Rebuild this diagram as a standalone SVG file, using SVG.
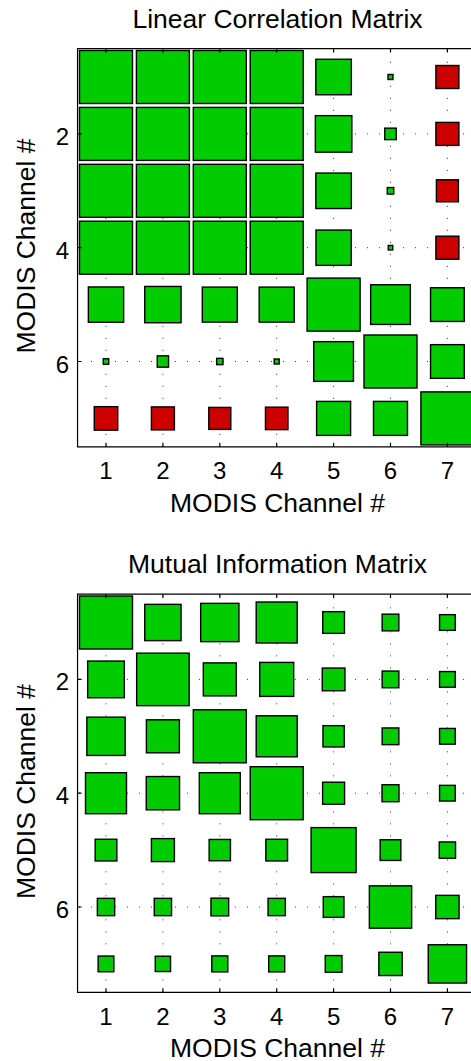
<svg xmlns="http://www.w3.org/2000/svg" width="471" height="1061" viewBox="0 0 471 1061">
<style>
text{font-family:"Liberation Sans",Arial,sans-serif;fill:#000}
.t{font-size:26.5px;text-anchor:middle}
.xt{font-size:24px;text-anchor:middle}
.yt{font-size:24px;text-anchor:end}
.g{fill:#00cc00;stroke:#000;stroke-width:1.4}
.r{fill:#cc0000;stroke:#000;stroke-width:1.4}
.grid{stroke:#333;stroke-width:1;fill:none;stroke-dasharray:1 11}
.ax{stroke:#000;stroke-width:1.2;fill:none}
</style>
<defs>
<g id="frame">
<g class="grid">
<path d="M106,446.85V48.55M162.9,446.85V48.55M219.8,446.85V48.55M276.7,446.85V48.55M333.6,446.85V48.55M390.5,446.85V48.55M447.4,446.85V48.55"/>
<path style="stroke-dashoffset:-1.5" d="M77.55,133.9H476M77.55,247.7H476M77.55,361.5H476"/>
</g>
</g>
<g id="axes">
<path class="ax" d="M476,48.55H77.55V446.85H476"/>
<path class="ax" d="M106,446.85v-4M162.9,446.85v-4M219.8,446.85v-4M276.7,446.85v-4M333.6,446.85v-4M390.5,446.85v-4M447.4,446.85v-4M106,48.55v4M162.9,48.55v4M219.8,48.55v4M276.7,48.55v4M333.6,48.55v4M390.5,48.55v4M447.4,48.55v4M77.55,133.9h4M77.55,247.7h4M77.55,361.5h4"/>
<g class="xt">
<text x="106" y="479.3">1</text><text x="162.9" y="479.3">2</text><text x="219.8" y="479.3">3</text><text x="276.7" y="479.3">4</text><text x="333.6" y="479.3">5</text><text x="390.5" y="479.3">6</text><text x="447.4" y="479.3">7</text>
</g>
<text class="yt" x="69" y="144.9">2</text><text class="yt" x="69" y="258.7">4</text><text class="yt" x="69" y="372.5">6</text>
<text class="t" x="277.5" y="511.7">MODIS Channel #</text>
<text class="t" transform="translate(35,246) rotate(-90)">MODIS Channel #</text>
</g>
</defs>

<g id="plot-linear-correlation">
<text class="t" x="277.5" y="27.7">Linear Correlation Matrix</text>
<use href="#frame"/>
<g id="lc-squares">
<rect class="g" x="79.5" y="50.5" width="53" height="53"/><rect class="g" x="136.4" y="50.5" width="53" height="53"/><rect class="g" x="193.3" y="50.5" width="53" height="53"/><rect class="g" x="250.2" y="50.5" width="53" height="53"/>
<rect class="g" x="315.85" y="59.25" width="35.5" height="35.5"/><rect class="g" x="388" y="74.5" width="5" height="5"/><rect class="r" x="435.9" y="65.5" width="23" height="23"/>
<rect class="g" x="79.5" y="107.4" width="53" height="53"/><rect class="g" x="136.4" y="107.4" width="53" height="53"/><rect class="g" x="193.3" y="107.4" width="53" height="53"/><rect class="g" x="250.2" y="107.4" width="53" height="53"/>
<rect class="g" x="315.35" y="115.65" width="36.5" height="36.5"/><rect class="g" x="384.75" y="128.15" width="11.5" height="11.5"/><rect class="r" x="435.9" y="122.4" width="23" height="23"/>
<rect class="g" x="79.5" y="164.3" width="53" height="53"/><rect class="g" x="136.4" y="164.3" width="53" height="53"/><rect class="g" x="193.3" y="164.3" width="53" height="53"/><rect class="g" x="250.2" y="164.3" width="53" height="53"/>
<rect class="g" x="315.85" y="173.05" width="35.5" height="35.5"/><rect class="g" x="387.25" y="187.55" width="6.5" height="6.5"/><rect class="r" x="436.4" y="179.8" width="22" height="22"/>
<rect class="g" x="79.5" y="221.2" width="53" height="53"/><rect class="g" x="136.4" y="221.2" width="53" height="53"/><rect class="g" x="193.3" y="221.2" width="53" height="53"/><rect class="g" x="250.2" y="221.2" width="53" height="53"/>
<rect class="g" x="315.95" y="230.05" width="35.3" height="35.3"/><rect class="g" x="388.25" y="245.45" width="4.5" height="4.5"/><rect class="r" x="435.9" y="236.2" width="23" height="23"/>
<rect class="g" x="88.35" y="286.95" width="35.3" height="35.3"/><rect class="g" x="144.75" y="286.45" width="36.3" height="36.3"/><rect class="g" x="202.3" y="287.1" width="35" height="35"/><rect class="g" x="259.2" y="287.1" width="35" height="35"/>
<rect class="g" x="307.1" y="278.1" width="53" height="53"/><rect class="g" x="370.65" y="284.75" width="39.7" height="39.7"/><rect class="g" x="430.55" y="287.75" width="33.7" height="33.7"/>
<rect class="g" x="103.25" y="358.75" width="5.5" height="5.5"/><rect class="g" x="157.25" y="355.85" width="11.3" height="11.3"/><rect class="g" x="216.65" y="358.35" width="6.3" height="6.3"/><rect class="g" x="274.2" y="359" width="5" height="5"/>
<rect class="g" x="313.75" y="341.65" width="39.7" height="39.7"/><rect class="g" x="364" y="335" width="53" height="53"/><rect class="g" x="430.55" y="344.65" width="33.7" height="33.7"/>
<rect class="r" x="94.25" y="406.65" width="23.5" height="23.5"/><rect class="r" x="151.4" y="406.9" width="23" height="23"/><rect class="r" x="208.8" y="407.4" width="22" height="22"/><rect class="r" x="265.45" y="407.15" width="22.5" height="22.5"/>
<rect class="g" x="316.6" y="401.4" width="34" height="34"/><rect class="g" x="373.5" y="401.4" width="34" height="34"/><rect class="g" x="420.9" y="391.9" width="53" height="53"/>
</g>
<use href="#axes"/>
</g>

<g id="plot-mutual-information">
<text class="t" x="277.5" y="572.9">Mutual Information Matrix</text>
<g transform="translate(0,545.5)">
<use href="#frame"/>
<g id="mi-squares">
<rect class="g" x="79.5" y="50.5" width="53" height="53"/><rect class="g" x="144.75" y="58.85" width="36.3" height="36.3"/><rect class="g" x="200.65" y="57.85" width="38.3" height="38.3"/><rect class="g" x="256.2" y="56.5" width="41" height="41"/>
<rect class="g" x="322.75" y="66.15" width="21.7" height="21.7"/><rect class="g" x="382.15" y="68.65" width="16.7" height="16.7"/><rect class="g" x="439.55" y="69.15" width="15.7" height="15.7"/>
<rect class="g" x="87.65" y="115.55" width="36.7" height="36.7"/><rect class="g" x="136.65" y="107.65" width="52.5" height="52.5"/><rect class="g" x="203.3" y="117.4" width="33" height="33"/><rect class="g" x="259.7" y="116.9" width="34" height="34"/>
<rect class="g" x="322.25" y="122.55" width="22.7" height="22.7"/><rect class="g" x="382.15" y="125.55" width="16.7" height="16.7"/><rect class="g" x="439.55" y="126.05" width="15.7" height="15.7"/>
<rect class="g" x="86.85" y="171.65" width="38.3" height="38.3"/><rect class="g" x="146.4" y="174.3" width="33" height="33"/><rect class="g" x="193.3" y="164.3" width="53" height="53"/><rect class="g" x="256.2" y="170.3" width="41" height="41"/>
<rect class="g" x="322.95" y="180.15" width="21.3" height="21.3"/><rect class="g" x="382.15" y="182.45" width="16.7" height="16.7"/><rect class="g" x="439.55" y="182.95" width="15.7" height="15.7"/>
<rect class="g" x="85.5" y="227.2" width="41" height="41"/><rect class="g" x="146.25" y="231.05" width="33.3" height="33.3"/><rect class="g" x="199.3" y="227.2" width="41" height="41"/><rect class="g" x="250.2" y="221.2" width="53" height="53"/>
<rect class="g" x="322.6" y="236.7" width="22" height="22"/><rect class="g" x="382" y="239.2" width="17" height="17"/><rect class="g" x="439.55" y="239.85" width="15.7" height="15.7"/>
<rect class="g" x="95.15" y="293.75" width="21.7" height="21.7"/><rect class="g" x="151.4" y="293.1" width="23" height="23"/><rect class="g" x="209.15" y="293.95" width="21.3" height="21.3"/><rect class="g" x="265.85" y="293.75" width="21.7" height="21.7"/>
<rect class="g" x="311.1" y="282.1" width="45" height="45"/><rect class="g" x="380.15" y="294.25" width="20.7" height="20.7"/><rect class="g" x="439.25" y="296.45" width="16.3" height="16.3"/>
<rect class="g" x="97.35" y="352.85" width="17.3" height="17.3"/><rect class="g" x="154.25" y="352.85" width="17.3" height="17.3"/><rect class="g" x="210.95" y="352.65" width="17.7" height="17.7"/><rect class="g" x="268.05" y="352.85" width="17.3" height="17.3"/>
<rect class="g" x="323.25" y="351.15" width="20.7" height="20.7"/><rect class="g" x="369.35" y="340.35" width="42.3" height="42.3"/><rect class="g" x="435.75" y="349.85" width="23.3" height="23.3"/>
<rect class="g" x="98.15" y="410.55" width="15.7" height="15.7"/><rect class="g" x="155.25" y="410.75" width="15.3" height="15.3"/><rect class="g" x="211.8" y="410.4" width="16" height="16"/><rect class="g" x="268.7" y="410.4" width="16" height="16"/>
<rect class="g" x="325.25" y="410.05" width="16.7" height="16.7"/><rect class="g" x="378.85" y="406.75" width="23.3" height="23.3"/><rect class="g" x="428.25" y="399.25" width="38.3" height="38.3"/>
</g>
<use href="#axes"/>
</g>
</g>
</svg>
